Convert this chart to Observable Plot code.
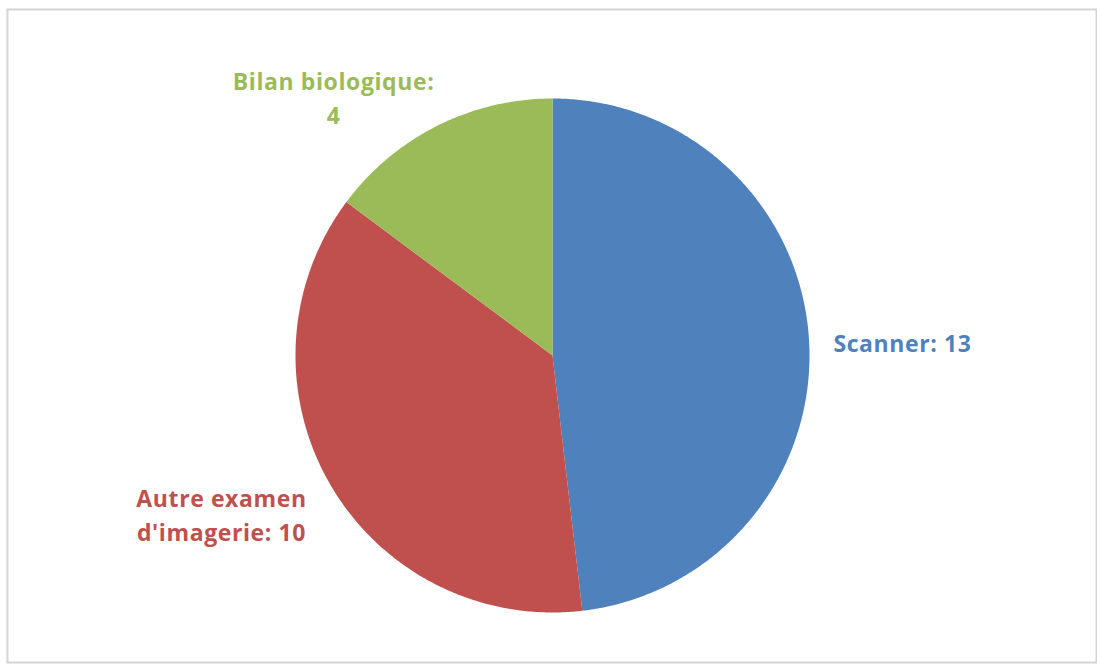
<!DOCTYPE html>
<html>
<head>
<meta charset="utf-8">
<script src="https://cdn.jsdelivr.net/npm/d3@7"></script>
<script src="https://cdn.jsdelivr.net/npm/@observablehq/plot@0.6"></script>
<style>
  html, body { margin: 0; padding: 0; background: #ffffff; }
  #chart { width: 1097px; height: 666px; overflow: hidden; }
  #chart svg text { letter-spacing: 0.6px; }
</style>
</head>
<body>
<div id="chart"></div>
<script>
// ---- data ----
const categories = ["Scanner", "Autre examen d'imagerie", "Bilan biologique"];
const values = [13, 10, 4];
const labelTexts = ["Scanner: 13", "Autre examen\nd'imagerie: 10", "Bilan biologique:\n4"];
const colors = ["#4F81BD", "#C0504D", "#9BBB59"];

// ---- layout (unit = pie radius) ----
const cx = 552, cy = 355, R = 257;
const labelLayout = {
  "Scanner": {x: 1.093, y: 0.054, anchor: "start"},
  "Autre examen d'imagerie": {x: -1.288, y: -0.612, anchor: "middle"},
  "Bilan biologique": {x: -0.852, y: 1.008, anchor: "middle"}
};

// ---- build slices ----
const pie = d3.pie().sort(null).value(d => d.value);
const rows = categories.map((c, i) => ({category: c, value: values[i], label: labelTexts[i]}));
const arcs = pie(rows);
const pts = [];
for (const a of arcs) {
  const n = Math.max(2, Math.ceil((a.endAngle - a.startAngle) / (Math.PI / 360)));
  pts.push({category: a.data.category, x: 0, y: 0});
  for (let k = 0; k <= n; k++) {
    const t = a.startAngle + (a.endAngle - a.startAngle) * k / n;
    pts.push({category: a.data.category, x: Math.sin(t), y: Math.cos(t)});
  }
  pts.push({category: a.data.category, x: 0, y: 0});
}
const labels = rows.map(r => ({...r, ...labelLayout[r.category]}));

const chart = Plot.plot({
  width: 1097,
  height: 666,
  marginLeft: 7,
  marginTop: 9,
  marginBottom: 4,
  marginRight: 1,
  x: {domain: [-1, 1], range: [cx - R, cx + R], axis: null},
  y: {domain: [-1, 1], range: [cy + R, cy - R], axis: null},
  color: {domain: categories, range: colors},
  style: {fontFamily: "'Open Sans', Lato, sans-serif", background: "#ffffff"},
  marks: [
    Plot.frame({stroke: "#d4d4d4", strokeWidth: 2}),
    Plot.line(pts, {x: "x", y: "y", z: "category", fill: "category", stroke: "none"}),
    ...labels.map(l => Plot.text([l], {
      x: "x", y: "y", text: "label", fill: "category",
      textAnchor: l.anchor, fontSize: 23, fontWeight: "bold", lineHeight: 1.47
    }))
  ]
});
document.getElementById("chart").appendChild(chart);
</script>
</body>
</html>
